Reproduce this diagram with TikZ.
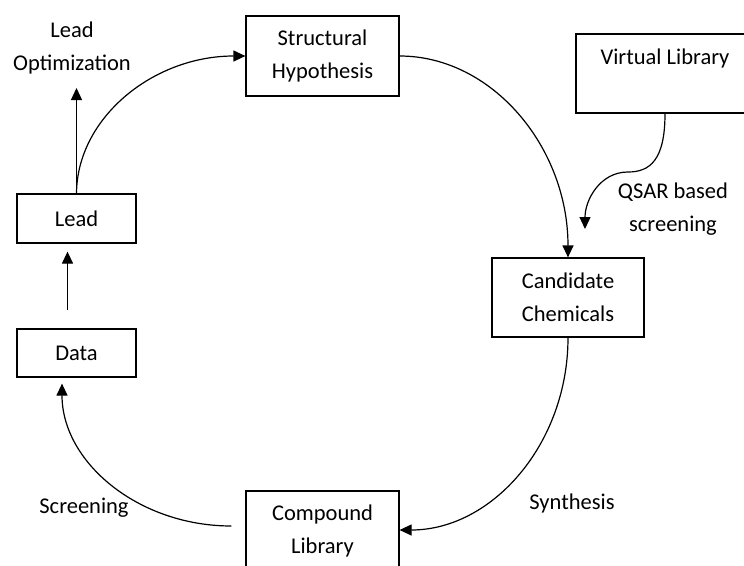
\documentclass[tikz,border=0pt]{standalone}
\usepackage{fontspec}
\setmainfont{Carlito}
\usetikzlibrary{arrows.meta}
\begin{document}
\begin{tikzpicture}[x=1pt,y=-1pt,
  every node/.style={font=\fontsize{22.5}{33}\selectfont, align=center, inner sep=0pt},
  box/.style={draw, line width=1.2pt},
  conn/.style={line width=1.2pt, -{Triangle[length=12pt,width=11pt]}}]
\useasboundingbox (0,0) rectangle (744,565);
% boxes
\node[box, minimum width=153pt, minimum height=80pt] (sh) at (322.5,56) {Structural\\Hypothesis};
\node[box, minimum width=119pt, minimum height=49pt] (lead) at (76.5,218.5) {Lead};
\node[box, minimum width=119pt, minimum height=48pt] (data) at (76.5,353) {Data};
\node[box, minimum width=152pt, minimum height=79pt] (cc) at (568,297.5) {Candidate\\Chemicals};
\node[box, minimum width=153pt, minimum height=80pt] (cl) at (322.5,531) {Compound\\Library};
\node[box, minimum width=178pt, minimum height=79pt] (vl) at (665,73.5) {Virtual Library\\\mbox{}};
% labels
\node (lo) at (72,47.5) {Lead\\Optimization};
\node (qsar) at (673,209) {QSAR based\\screening};
\node (syn) at (572,503) {Synthesis};
\node (scr) at (84,508) {Screening};
\coordinate (qtip) at (585,229);
\coordinate (lotip) at (76.5,88);
% connectors
\draw[conn] (lead.north) -- (lotip);
\draw[conn] (lead.north) .. controls (77,118) and (153,56) .. (sh.west);
\draw[conn] (sh.east) .. controls (492,56) and (568,147) .. (cc.north);
\draw[conn] (cc.south) .. controls (568,444) and (492,530) .. ([yshift=1pt]cl.east);
\draw[conn] ([shift={(-14pt,5pt)}]cl.west) .. controls (138,526) and (62,462) .. ([shift={(-14.5pt,-6pt)}]data.south);
\draw[conn, shorten <=18pt, shorten >=8pt] ([xshift=-9pt]data.north) -- ([xshift=-9pt]lead.south);
\draw[conn] (vl.south) .. controls (665,160) and (650,172) .. (628,172) .. controls (600,172) and (585,200) .. (qtip);
\end{tikzpicture}
\end{document}
